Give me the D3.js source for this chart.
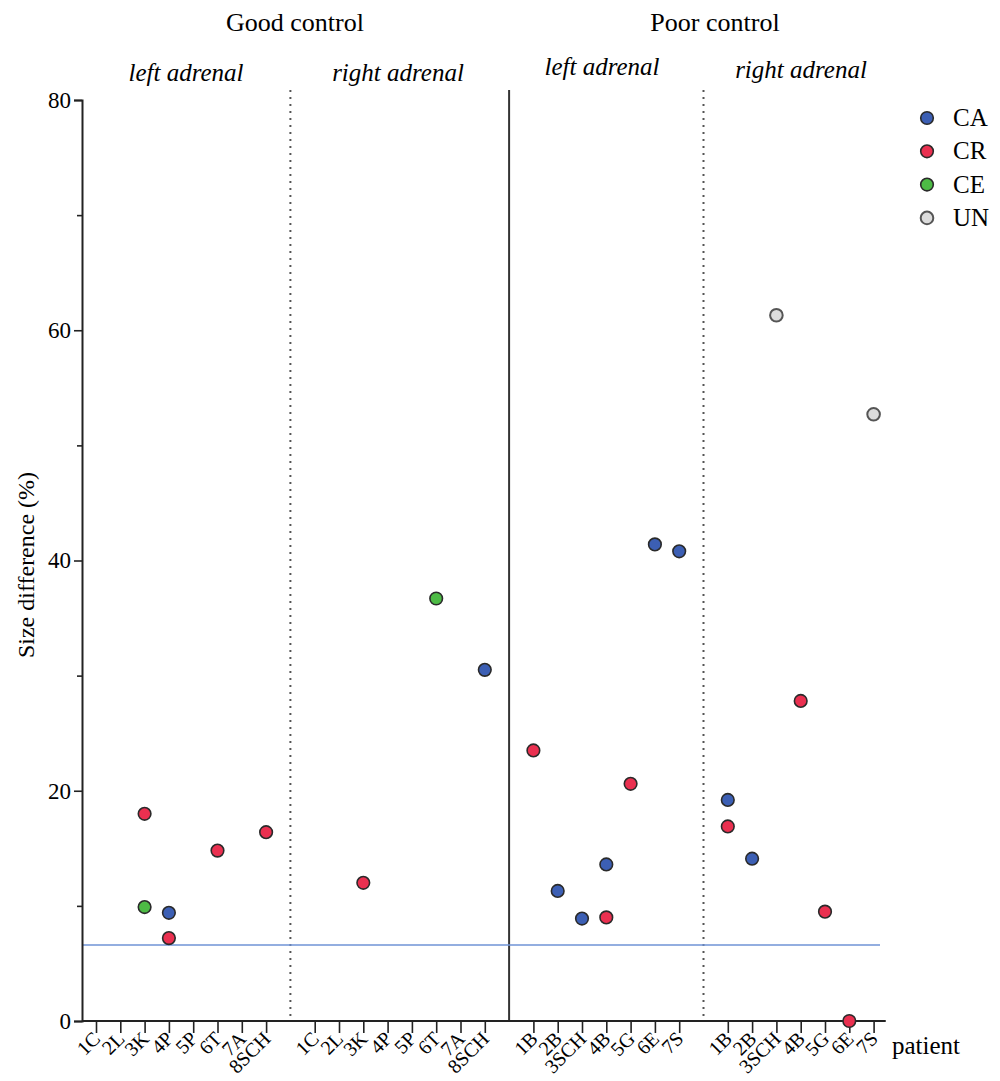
<!DOCTYPE html>
<html><head><meta charset="utf-8">
<script src="https://cdn.jsdelivr.net/npm/d3@7"></script>
<style>
body{margin:0;background:#fff;}
text{font-family:"Liberation Serif","Times New Roman",serif;fill:#000;}
</style></head>
<body><svg id="c" width="1000" height="1081"></svg>
<script>
// ---- data ----
const goodPatients = ["1C","2L","3K","4P","5P","6T","7A","8SCH"];
const poorPatients = ["1B","2B","3SCH","4B","5G","6E","7S"];
const panelKeys = ["GL","GR","PL","PR"];
const panelLabels = ["left adrenal","right adrenal","left adrenal","right adrenal"];
const groupLabels = ["Good control","Poor control"];
const types = ["CA","CR","CE","UN"];
const typeColors = ["#3c5fb4","#ea3050","#4dbb45","#dcdcdc"];
// [panel, patient, value]
const CA = [["GL","4P",9.4],["GR","8SCH",30.5],["PL","2B",11.3],["PL","3SCH",8.9],["PL","4B",13.6],["PL","6E",41.4],["PL","7S",40.8],["PR","1B",19.2],["PR","2B",14.1]];
const CR = [["GL","3K",18.0],["GL","4P",7.2],["GL","6T",14.8],["GL","8SCH",16.4],["GR","3K",12.0],["PL","1B",23.5],["PL","4B",9.0],["PL","5G",20.6],["PR","1B",16.9],["PR","4B",27.8],["PR","5G",9.5],["PR","6E",0]];
const CE = [["GL","3K",9.9],["GR","6T",36.7]];
const UN = [["PR","3SCH",61.3],["PR","7S",52.7]];
const threshold = 6.6;
const yTicks = [0,10,20,30,40,50,60,70,80];

// ---- layout ----
const svg = d3.select("#c");
const slots = [];
goodPatients.forEach(p=>slots.push("GL|"+p)); slots.push("sep1");
goodPatients.forEach(p=>slots.push("GR|"+p)); slots.push("sep2");
poorPatients.forEach(p=>slots.push("PL|"+p)); slots.push("sep3");
poorPatients.forEach(p=>slots.push("PR|"+p));
const x = d3.scalePoint().domain(slots).range([96,873.6]);
const step = x.step();
const y = d3.scaleLinear().domain([0,80]).range([1021,100]);
const x0 = 82, x1 = x(slots[slots.length-1]) + 0.5*step;

// separators
const sepTop = 90;
[["sep1","dot"],["sep2","solid"],["sep3","dot"]].forEach(([k,s])=>{
  const l = svg.append("line").attr("x1",x(k)).attr("x2",x(k)).attr("y1",sepTop).attr("y2",y(0))
    .attr("stroke","#333");
  if(s==="dot") l.attr("stroke-width",2).attr("stroke-dasharray","2,5").attr("stroke","#555");
  else l.attr("stroke-width",2);
});

// threshold line
svg.append("line").attr("x1",x0).attr("x2",880).attr("y1",y(threshold)).attr("y2",y(threshold))
  .attr("stroke","#6f93d6").attr("stroke-width",1.6);

// y axis
const gy = svg.append("g").attr("transform",`translate(${x0},0)`)
  .call(d3.axisLeft(y).tickValues(yTicks).tickSize(8).tickPadding(3)
    .tickFormat(d=> d%20===0 ? d : ""));
gy.select(".domain").attr("stroke","#222").attr("stroke-width",2);
gy.selectAll(".tick line").attr("stroke","#222").attr("stroke-width",1.6)
  .attr("x2",d=> d%20===0 ? -8 : -5);
gy.selectAll(".tick text").attr("font-size",23).style("font-family","Liberation Serif").attr("fill","#000");
svg.append("text").attr("transform",`translate(34,565) rotate(-90)`).attr("text-anchor","middle")
  .attr("font-size",24).text("Size difference (%)");

// x axis
const gx = svg.append("g").attr("transform",`translate(0,${y(0)})`)
  .call(d3.axisBottom(x).tickValues(slots.filter(s=>s.includes("|"))).tickSize(12)
    .tickFormat(k=>k.split("|")[1]));
gx.select(".domain").remove();
gx.append("line").attr("x1",x0).attr("x2",x1).attr("y1",0).attr("y2",0).attr("stroke","#222").attr("stroke-width",2);
gx.selectAll(".tick line").attr("stroke","#222").attr("stroke-width",1.6);
gx.selectAll(".tick text").attr("font-size",20).style("font-family","Liberation Serif").attr("fill","#000")
  .attr("text-anchor","end").attr("dy",0).attr("y",0)
  .attr("transform","translate(5,19) rotate(-45)");
svg.append("text").attr("x",892).attr("y",1054).attr("font-size",25).text("patient");

// headers
const panelCenters = [186,398,602,801];
const panelY = [81,81,75,78];
panelKeys.forEach((k,i)=>{
  svg.append("text").attr("x",panelCenters[i]).attr("y",panelY[i]).attr("text-anchor","middle")
    .attr("font-size",25).attr("font-style","italic").text(panelLabels[i]);
});
svg.append("text").attr("x",295).attr("y",31).attr("text-anchor","middle").attr("font-size",26).text(groupLabels[0]);
svg.append("text").attr("x",715).attr("y",31).attr("text-anchor","middle").attr("font-size",26).text(groupLabels[1]);

// points
const series = [CA,CR,CE,UN];
series.forEach((arr,i)=>{
  svg.append("g").selectAll("circle").data(arr).join("circle")
    .attr("cx",d=>x(d[0]+"|"+d[1])).attr("cy",d=>y(d[2])).attr("r",6.3)
    .attr("fill",typeColors[i]).attr("stroke", i===3 ? "#555" : "#2a2a2a").attr("stroke-width", i===3?2:1.6);
});

// legend
const lg = svg.append("g");
types.forEach((t,i)=>{
  const cy = 118 + i*33.3;
  lg.append("circle").attr("cx",927).attr("cy",cy).attr("r",6.3).attr("fill",typeColors[i])
    .attr("stroke", i===3 ? "#555" : "#2a2a2a").attr("stroke-width", i===3?2:1.6);
  lg.append("text").attr("x",953).attr("y",cy+8).attr("font-size",25).text(t);
});
</script></body></html>
